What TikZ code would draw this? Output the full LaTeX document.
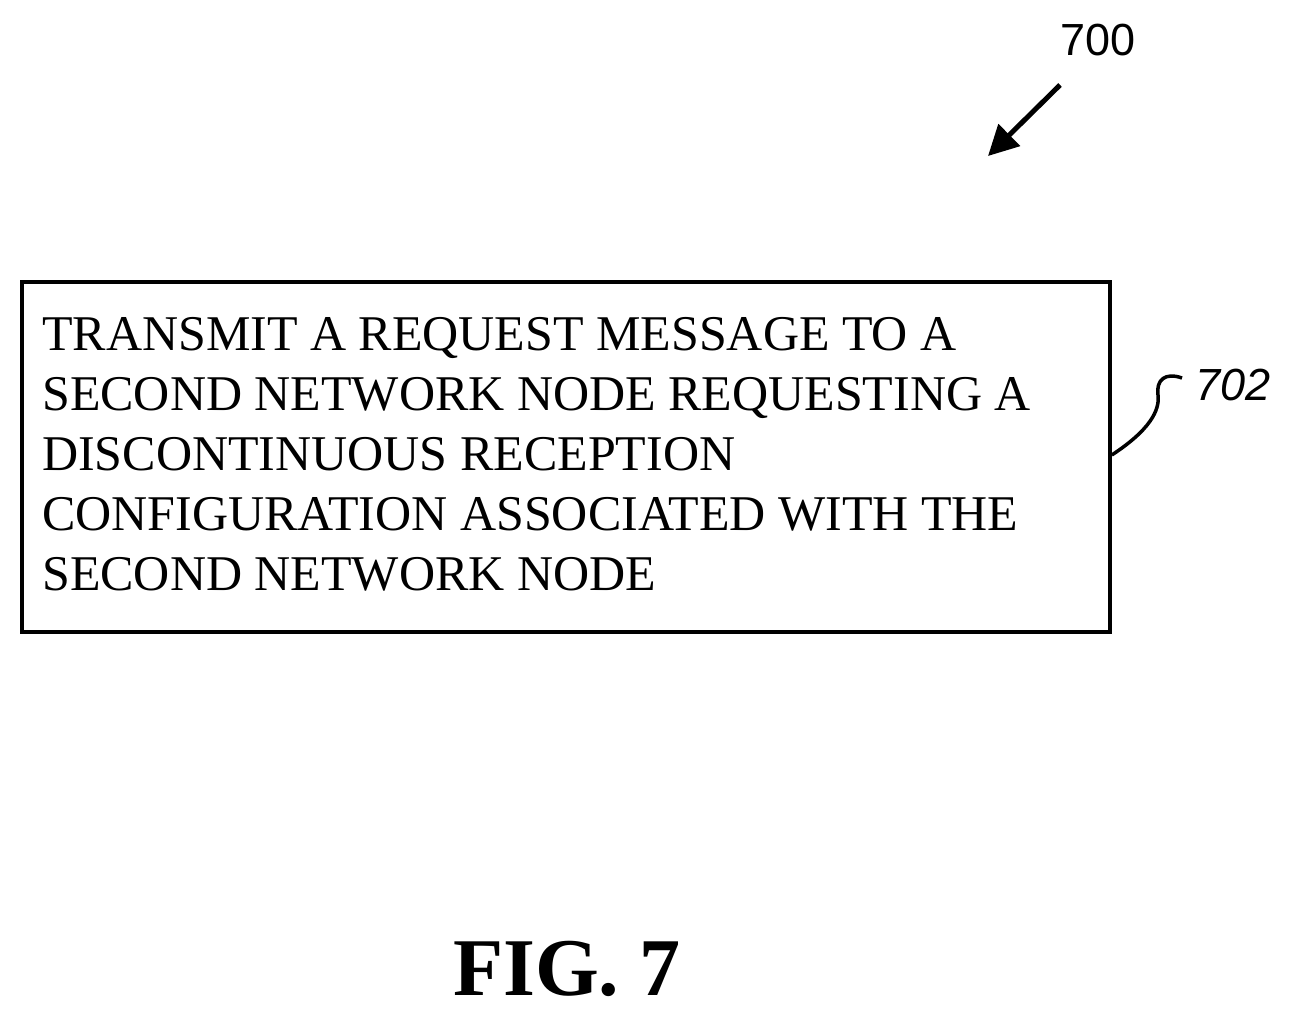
\documentclass[tikz,border=0pt]{standalone}
\usepackage{fontspec}
\setmainfont{Liberation Serif}
\newfontfamily\labelfont{Liberation Sans}
\usetikzlibrary{arrows.meta,positioning}
\tikzset{
  stepbox/.style={draw, line width=3.5pt, inner sep=0pt},
  steptext/.style={anchor=base west, align=left, font=\fontsize{50}{60}\selectfont, inner sep=0pt},
  refnum/.style={font=\labelfont\fontsize{45}{45}\selectfont, inner sep=0pt},
  lead/.style={line width=3.5pt}
}
\begin{document}
\begin{tikzpicture}[x=1pt,y=-1pt]
\useasboundingbox (0,0) rectangle (1314,1017);
% figure number and arrow
\node[refnum, anchor=base] (n700) at (1098,55) {700};
\coordinate (a700) at (1060,85);
\coordinate (b700) at (988,156);
\draw[line width=5pt, -{Triangle[length=30pt,width=30pt]}] (a700) -- (b700);
% the single step
\node[stepbox, minimum width=1088pt, minimum height=350pt] (s702) at (566,457) {};
\node[steptext] (t702) at (42,590) {TRANSMIT A REQUEST MESSAGE TO A\\SECOND NETWORK NODE REQUESTING A\\DISCONTINUOUS RECEPTION\\CONFIGURATION ASSOCIATED WITH THE\\SECOND NETWORK NODE};
\node[refnum, anchor=base west, font=\labelfont\itshape\fontsize{45}{45}\selectfont] (n702) at (1195,400) {702};
\coordinate (c702) at (1182,378);
\draw[lead] (s702.east |- 0,455) .. controls (1150,430) and (1160,410) .. (1158,395)
  .. controls (1156,380) and (1165,372) .. (c702);
% caption
\node[anchor=base, font=\bfseries\fontsize{82}{82}\selectfont, inner sep=0pt] (fig) at (567,995) {FIG. 7};
\end{tikzpicture}
\end{document}
